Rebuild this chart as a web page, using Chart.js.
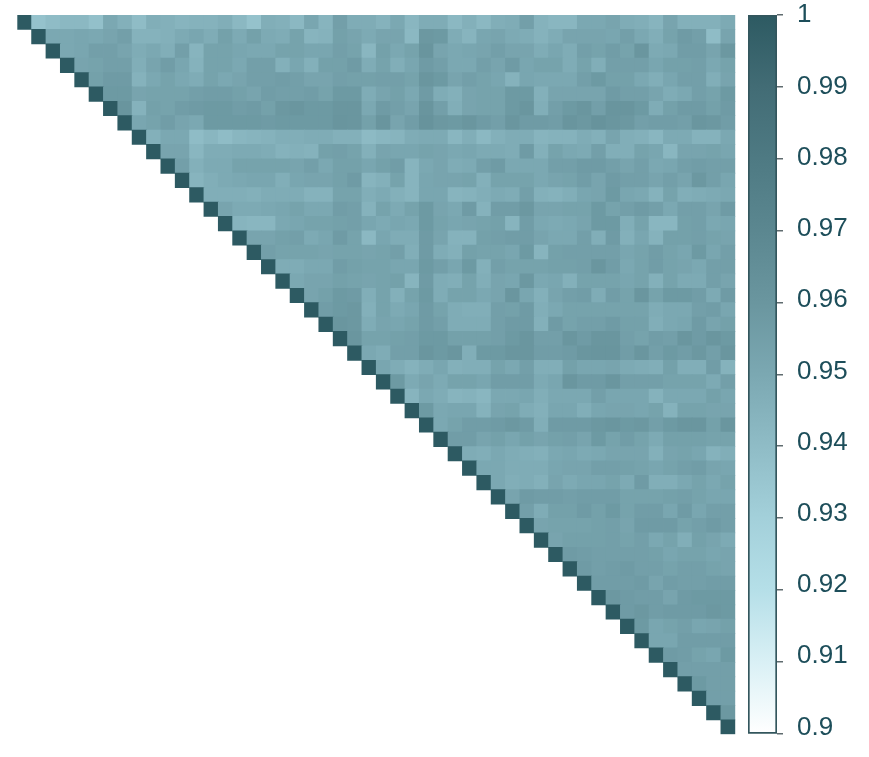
<!DOCTYPE html>
<html>
<head>
<meta charset="utf-8">
<style>
  html, body { margin: 0; background: #fff; }
  canvas { position: absolute; left: 0; top: 0; }
  #heat { filter: blur(.6px); }
</style>
<script src="https://cdn.jsdelivr.net/npm/chart.js@4"></script>
</head>
<body>
<canvas id="heat" width="869" height="757"></canvas>
<canvas id="bar" width="869" height="757"></canvas>
<script>
// upper triangle, each row starts at its own diagonal cell
const row00 = [1,.937,.94,.942,.942,.938,.95,.946,.94,.947, .946,.944,.945,.945,.947,.942,.937,.947,.946,.942, .951,.944,.955,.948,.948,.945,.95,.943,.948,.948, .942,.946,.942,.947,.948,.955,.945,.943,.943,.95, .95,.952,.948,.947,.944,.952,.946,.946,.946,.949];
const row01 = [1,.95,.95,.951,.95,.952,.955,.945,.945, .946,.949,.951,.948,.954,.949,.954,.949,.948,.953, .944,.945,.954,.952,.949,.952,.952,.942,.959,.958, .948,.944,.951,.952,.949,.948,.945,.948,.952,.952, .952,.951,.955,.95,.947,.953,.957,.955,.94,.952];
const row02 = [1,.95,.951,.955,.955,.952,.948,.95, .947,.955,.944,.953,.953,.951,.95,.95,.953,.953, .951,.951,.955,.953,.943,.954,.95,.953,.961,.952, .95,.951,.952,.955,.952,.952,.948,.951,.948,.955, .953,.956,.953,.96,.949,.95,.956,.956,.952,.959];
const row03 = [1,.952,.953,.955,.955,.947,.952, .956,.951,.945,.953,.953,.95,.955,.955,.946,.951, .946,.954,.954,.957,.948,.953,.947,.951,.957,.955, .95,.95,.955,.952,.957,.951,.953,.953,.948,.953, .947,.955,.955,.955,.951,.954,.954,.955,.95,.953];
const row04 = [1,.954,.957,.957,.945,.95, .953,.95,.948,.953,.95,.952,.955,.955,.956,.955, .952,.952,.955,.954,.954,.955,.955,.953,.96,.958, .952,.955,.953,.951,.945,.951,.95,.95,.95,.955, .958,.954,.954,.95,.947,.951,.955,.955,.947,.952];
const row05 = [1,.958,.958,.952,.953, .953,.953,.955,.956,.956,.954,.952,.956,.955,.955, .956,.953,.958,.958,.948,.952,.954,.95,.957,.948, .946,.952,.953,.953,.958,.958,.946,.952,.952,.952, .952,.957,.955,.955,.952,.948,.95,.955,.953,.958];
const row06 = [1,.961,.945,.954, .953,.956,.957,.958,.958,.956,.957,.954,.959,.96, .958,.958,.96,.96,.95,.957,.955,.952,.961,.955, .947,.952,.953,.953,.958,.96,.947,.955,.958,.96, .955,.961,.961,.958,.948,.954,.957,.957,.954,.957];
const row07 = [1,.951,.953, .956,.952,.95,.958,.958,.958,.958,.957,.958,.958, .958,.958,.961,.96,.954,.961,.952,.956,.962,.959, .958,.96,.957,.955,.96,.957,.957,.956,.961,.959, .962,.96,.959,.955,.956,.956,.955,.96,.959,.956];
const row08 = [1,.946, .95,.95,.94,.943,.94,.943,.944,.945,.947,.947, .948,.948,.946,.946,.941,.943,.944,.948,.949,.949, .943,.947,.942,.946,.948,.948,.944,.945,.945,.948, .946,.952,.947,.946,.943,.949,.949,.945,.945,.95];
const row09 = [1, .952,.952,.943,.948,.948,.949,.949,.948,.945,.946, .945,.954,.955,.953,.946,.952,.951,.951,.953,.952, .95,.951,.949,.949,.948,.957,.946,.953,.95,.949, .955,.947,.947,.953,.951,.943,.952,.952,.953,.951];
const row10 = [1,.955,.946,.949,.949,.953,.953,.953,.953,.952, .955,.95,.954,.954,.951,.954,.956,.944,.95,.952, .948,.949,.955,.957,.95,.95,.95,.955,.955,.957, .957,.955,.952,.955,.95,.951,.955,.956,.955,.955];
const row11 = [1,.944,.947,.949,.95,.951,.951,.947,.951, .952,.952,.954,.957,.944,.946,.953,.944,.951,.952, .952,.953,.946,.953,.953,.953,.95,.952,.953,.956, .952,.957,.955,.955,.952,.955,.952,.959,.955,.951];
const row12 = [1,.947,.947,.947,.946,.948,.948,.948, .945,.945,.953,.953,.947,.949,.946,.944,.951,.951, .944,.945,.947,.949,.948,.955,.946,.945,.947,.951, .952,.958,.951,.95,.945,.953,.947,.948,.949,.95];
const row13 = [1,.952,.949,.949,.95,.951,.953, .95,.95,.956,.955,.945,.953,.949,.953,.958,.952, .95,.957,.945,.956,.956,.959,.952,.952,.953,.953, .958,.953,.955,.957,.955,.95,.955,.955,.952,.957];
const row14 = [1,.944,.943,.943,.95,.951, .953,.953,.954,.955,.951,.949,.951,.95,.958,.953, .951,.952,.953,.954,.944,.956,.95,.949,.95,.952, .958,.958,.947,.953,.943,.943,.954,.955,.95,.951];
const row15 = [1,.952,.952,.954,.955, .949,.951,.957,.953,.942,.951,.948,.948,.957,.952, .945,.945,.954,.955,.956,.956,.952,.95,.95,.955, .947,.957,.946,.951,.945,.954,.954,.955,.953,.952];
const row16 = [1,.955,.953,.953, .953,.952,.953,.953,.952,.953,.955,.947,.957,.948, .946,.954,.953,.953,.951,.958,.944,.954,.955,.955, .955,.955,.951,.953,.956,.953,.951,.958,.951,.955];
const row17 = [1,.948,.948, .95,.95,.956,.954,.953,.953,.951,.951,.958,.955, .951,.958,.946,.955,.953,.953,.953,.954,.954,.955, .96,.956,.95,.953,.956,.953,.952,.95,.955,.955];
const row18 = [1,.95, .952,.952,.954,.953,.952,.953,.954,.944,.957,.948, .947,.953,.947,.952,.951,.959,.95,.951,.946,.953, .953,.953,.951,.953,.946,.953,.949,.949,.955,.952];
const row19 = [1, .952,.954,.958,.957,.947,.953,.946,.953,.958,.948, .953,.953,.95,.952,.96,.951,.946,.952,.955,.956, .948,.956,.953,.96,.953,.958,.958,.956,.949,.957];
const row20 = [1,.956,.958,.959,.946,.953,.949,.951,.957,.953, .948,.947,.947,.955,.954,.957,.947,.95,.953,.953, .953,.953,.953,.953,.948,.95,.95,.955,.956,.951];
const row21 = [1,.96,.959,.948,.952,.951,.953,.957,.955, .948,.948,.948,.955,.957,.957,.946,.957,.953,.955, .955,.957,.954,.954,.947,.95,.951,.957,.952,.954];
const row22 = [1,.96,.953,.953,.954,.955,.958,.958, .954,.954,.954,.955,.958,.96,.955,.955,.96,.957, .96,.96,.955,.953,.956,.955,.96,.957,.96,.958];
const row23 = [1,.95,.948,.955,.955,.96,.958, .96,.947,.958,.958,.96,.96,.956,.956,.957,.96, .961,.961,.956,.96,.955,.958,.956,.959,.955,.96];
const row24 = [1,.951,.948,.945,.948,.951, .946,.947,.947,.953,.95,.955,.947,.947,.954,.951, .951,.952,.949,.948,.947,.954,.947,.947,.956,.945];
const row25 = [1,.958,.949,.952,.949, .953,.953,.951,.956,.956,.956,.949,.951,.96,.957, .957,.96,.955,.955,.955,.953,.953,.953,.949,.955];
const row26 = [1,.944,.95,.948, .944,.945,.943,.95,.95,.951,.947,.95,.95,.95, .955,.951,.951,.951,.945,.95,.95,.95,.954,.951];
const row27 = [1,.958,.95, .951,.951,.945,.952,.953,.948,.946,.951,.951,.947, .951,.952,.952,.951,.953,.945,.953,.953,.952,.952];
const row28 = [1,.95, .953,.956,.956,.957,.959,.957,.947,.957,.957,.957, .959,.96,.958,.959,.955,.958,.96,.96,.954,.96];
const row29 = [1, .956,.956,.952,.954,.951,.954,.952,.954,.955,.952, .958,.953,.956,.953,.949,.954,.954,.954,.953,.953];
const row30 = [1,.948,.947,.95,.948,.947,.946,.95,.951,.949, .95,.952,.952,.952,.946,.952,.953,.951,.945,.947];
const row31 = [1,.95,.95,.948,.948,.948,.951,.952,.952, .955,.955,.954,.953,.951,.953,.955,.956,.952,.951];
const row32 = [1,.95,.947,.948,.946,.952,.949,.951, .951,.953,.949,.957,.947,.947,.95,.953,.95,.953];
const row33 = [1,.952,.957,.956,.956,.955,.956, .956,.956,.953,.953,.953,.954,.955,.953,.951,.951];
const row34 = [1,.955,.948,.954,.954,.957, .954,.958,.953,.956,.956,.951,.957,.951,.955,.955];
const row35 = [1,.952,.953,.953,.953, .954,.955,.952,.957,.957,.957,.953,.955,.957,.955];
const row36 = [1,.952,.954,.954, .954,.955,.953,.955,.95,.953,.947,.954,.952,.949];
const row37 = [1,.957,.956, .955,.955,.955,.955,.954,.951,.953,.953,.951,.952];
const row38 = [1,.957, .955,.956,.957,.955,.955,.953,.955,.955,.953,.952];
const row39 = [1, .956,.956,.956,.957,.952,.956,.955,.955,.956,.956];
const row40 = [1,.959,.957,.956,.956,.952,.957,.958,.958,.958];
const row41 = [1,.957,.959,.956,.957,.957,.957,.959,.958];
const row42 = [1,.958,.951,.953,.955,.951,.952,.954];
const row43 = [1,.951,.951,.956,.956,.956,.956];
const row44 = [1,.957,.956,.953,.951,.958];
const row45 = [1,.955,.955,.955,.955];
const row46 = [1,.958,.955,.955];
const row47 = [1,.955,.955];
const row48 = [1,.959];
const row49 = [1];
const rows = [row00,row01,row02,row03,row04,row05,row06,row07,row08,row09,
  row10,row11,row12,row13,row14,row15,row16,row17,row18,row19,
  row20,row21,row22,row23,row24,row25,row26,row27,row28,row29,
  row30,row31,row32,row33,row34,row35,row36,row37,row38,row39,
  row40,row41,row42,row43,row44,row45,row46,row47,row48,row49];

const colorbarTicks = [1,.99,.98,.97,.96,.95,.94,.93,.92,.91,.9];
const colorbarRange = [.9, 1];

const scaleColors = ['#ffffff','#d9f0f5','#b5dfe8','#a3d0da','#8fbcc6','#7ba8b2','#6a969f','#5b8790','#4e7a83','#426c75','#2d5a62'];
const textColor = '#1d4e5a';

function hexToRgb(hex) {
  return [1, 3, 5].map(i => parseInt(hex.slice(i, i + 2), 16));
}

// v from 0.9 to 1
function colorFor(v) {
  const pos = Math.min(Math.max((v - .9) / .1, 0), 1) * (scaleColors.length - 1);
  const i = Math.min(Math.floor(pos), scaleColors.length - 2);
  const a = hexToRgb(scaleColors[i]);
  const b = hexToRgb(scaleColors[i + 1]);
  const t = pos - i;
  const c = a.map((n, k) => Math.round(n + (b[k] - n) * t));
  return `rgb(${c[0]},${c[1]},${c[2]})`;
}

const cells = [];
rows.forEach((row, r) => {
  row.forEach((v, i) => cells.push({ x: r + i + .5, y: r + .5, v }));
});

Chart.defaults.font.family = '"Liberation Sans", Arial, sans-serif';
Chart.defaults.animation = false;

new Chart(document.getElementById('heat'), {
  type: 'scatter',
  data: {
    datasets: [{
      data: cells,
      pointStyle: 'rect',
      pointBorderWidth: 0,
      pointBackgroundColor: ctx => colorFor(ctx.raw.v),
      // rect side is radius * sqrt2
      pointRadius: ctx => (ctx.chart.scales.x.width / rows.length + .8) / Math.SQRT2
    }]
  },
  options: {
    responsive: false,
    devicePixelRatio: 1,
    layout: { padding: { left: 17.3, top: 15, right: 133.7, bottom: 22.7 } },
    plugins: { legend: { display: false }, tooltip: { enabled: false } },
    scales: {
      x: { type: 'linear', min: 0, max: rows.length, display: false },
      y: { type: 'linear', min: 0, max: rows.length, reverse: true, display: false }
    }
  }
});

new Chart(document.getElementById('bar'), {
  type: 'bar',
  data: {
    labels: [''],
    datasets: [{
      data: [colorbarRange],
      barPercentage: 1,
      categoryPercentage: 1,
      borderColor: '#33565d',
      borderWidth: 2,
      borderSkipped: false,
      backgroundColor: ctx => {
        const area = ctx.chart.chartArea;
        if (!area) return '#7ba8b2';
        const grad = ctx.chart.ctx.createLinearGradient(0, area.bottom, 0, area.top);
        scaleColors.forEach((c, i) => grad.addColorStop(i / (scaleColors.length - 1), c));
        return grad;
      }
    }]
  },
  options: {
    responsive: false,
    devicePixelRatio: 1,
    layout: { padding: { left: 748, top: 15, bottom: 23.3 } },
    plugins: { legend: { display: false }, tooltip: { enabled: false } },
    scales: {
      x: { display: false },
      y: {
        position: 'right',
        weight: 0,
        min: colorbarRange[0],
        max: colorbarRange[1],
        afterBuildTicks: axis => { axis.ticks = colorbarTicks.map(value => ({ value })); },
        afterFit: axis => { axis.width = 6; },
        ticks: { display: false, autoSkip: false },
        border: { display: false },
        grid: { drawOnChartArea: false, tickLength: 6, color: '#5f6b6e', lineWidth: 1.5 }
      },
      // labels sit a little off the tick marks, more so at the bottom
      labels: {
        position: 'right',
        weight: 1,
        min: .89913,
        max: 1.00004,
        afterBuildTicks: axis => { axis.ticks = colorbarTicks.map(value => ({ value })); },
        afterFit: axis => {
          axis.width = 86;
          axis.paddingTop = 0;
          axis.paddingBottom = 0;
        },
        ticks: {
          autoSkip: false,
          padding: 14,
          color: textColor,
          font: { size: 26 },
          callback: v => String(v)
        },
        border: { display: false },
        grid: { display: false, drawTicks: false }
      }
    }
  }
});
</script>
</body>
</html>
